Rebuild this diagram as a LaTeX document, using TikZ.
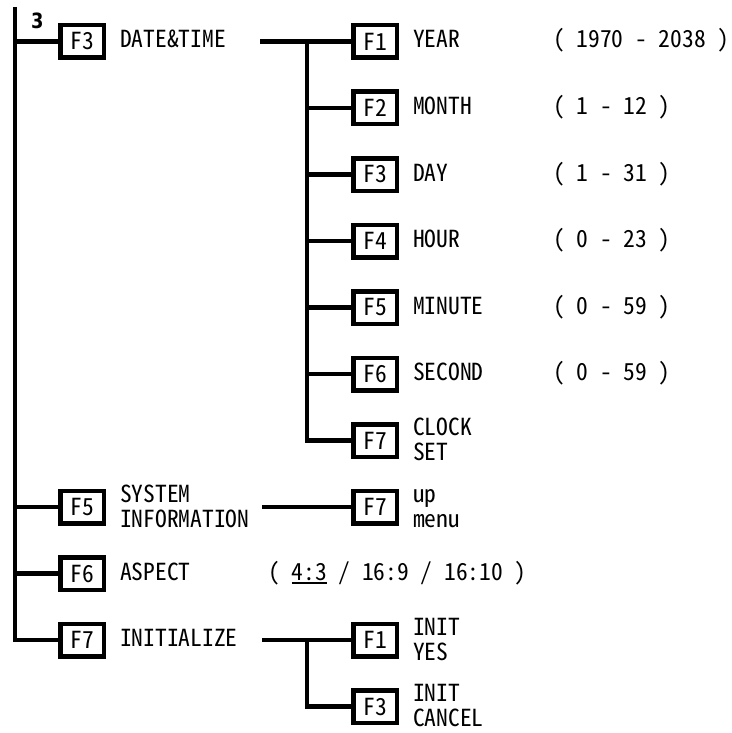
\documentclass[tikz,border=0pt]{standalone}
\usepackage{fontspec}
\newfontfamily\gt[RawFeature=+hwid]{Noto Sans CJK JP}
\newfontfamily\numf[FakeStretch=0.85]{DejaVu Sans}
\newcommand\ulx[1]{\setbox0\hbox{#1}\rlap{\rule[-3.5pt]{\wd0}{1.8pt}}\box0\relax}
\begin{document}
\begin{tikzpicture}[x=1pt,y=-1pt,
  conn/.style={line width=4.5pt, line join=miter},
  fkey/.style={draw, fill=white, line width=4.5pt, minimum width=43.5pt, minimum height=32.5pt, inner sep=0pt, font=\gt\fontsize{23.5}{25}\selectfont},
  lbl/.style={anchor=base west, inner sep=0pt, font=\gt\fontsize{23.5}{25}\selectfont, align=left},
  num/.style={anchor=base west, inner sep=0pt, font=\numf\bfseries\fontsize{21}{21}\selectfont},
]
\useasboundingbox (0,0) rectangle (731,733);

% level-1 keys
\node[fkey] (a3) at (82,41.5) {F3};
\node[fkey] (a5) at (82,507) {F5};
\node[fkey] (a6) at (82,573.5) {F6};
\node[fkey] (a7) at (82,640) {F7};
\node[num] (n3) at (31,29) {3};

\node[lbl] (t3) at (120,48) {DATE\&TIME};
\node[lbl] (t5) at (120,527) {SYSTEM\\INFORMATION};
\node[lbl] (t6) at (120,580) {ASPECT};
\node[lbl] (t7) at (120,646.5) {INITIALIZE};
\node[lbl] (r6) at (268,580) {( \ulx{4:3} / 16:9 / 16:10 )};

% level-2 keys (date & time)
\node[fkey] (d1) at (375,41.5) {F1};
\node[fkey] (d2) at (375,108) {F2};
\node[fkey] (d3) at (375,174.5) {F3};
\node[fkey] (d4) at (375,241) {F4};
\node[fkey] (d5) at (375,307.5) {F5};
\node[fkey] (d6) at (375,374) {F6};
\node[fkey] (d7) at (375,440.5) {F7};
\node[lbl] (u1) at (413,48) {YEAR};
\node[lbl] (u2) at (413,114.5) {MONTH};
\node[lbl] (u3) at (413,181) {DAY};
\node[lbl] (u4) at (413,247.5) {HOUR};
\node[lbl] (u5) at (413,314) {MINUTE};
\node[lbl] (u6) at (413,380.5) {SECOND};
\node[lbl] (u7) at (413,460.5) {CLOCK\\SET};
\node[lbl] (v1) at (553,48) {( 1970 - 2038 )};
\node[lbl] (v2) at (553,114.5) {( 1 - 12 )};
\node[lbl] (v3) at (553,181) {( 1 - 31 )};
\node[lbl] (v4) at (553,247.5) {( 0 - 23 )};
\node[lbl] (v5) at (553,314) {( 0 - 59 )};
\node[lbl] (v6) at (553,380.5) {( 0 - 59 )};

% system information
\node[fkey] (s7) at (375,507) {F7};
\node[lbl] (w7) at (413,527) {up\\menu};

% initialize
\node[fkey] (i1) at (375,640) {F1};
\node[fkey] (i3) at (375,706.5) {F3};
\node[lbl] (x1) at (413,660) {INIT\\YES};
\node[lbl] (x3) at (413,726.5) {INIT\\CANCEL};

% coordinates
\coordinate (top) at (15,7);
\coordinate (dl) at (260,41.5);
\coordinate (dj) at (307,41.5);
\coordinate (sl) at (262,507);
\coordinate (il) at (262,640);
\coordinate (ij) at (307,640);

% connectors
\draw[conn] (top) |- (a7.west);
\foreach \k in {a3,a5,a6} \draw[conn] (\k.west -| top) -- (\k.west);
\draw[conn] (dl) -- (d1.west);
\draw[conn] (dj) |- (d7.west);
\foreach \k in {d2,d3,d4,d5,d6} \draw[conn] (\k.west -| dj) -- (\k.west);
\draw[conn] (sl) -- (s7.west);
\draw[conn] (il) -- (i1.west);
\draw[conn] (ij) |- (i3.west);
\end{tikzpicture}
\end{document}
